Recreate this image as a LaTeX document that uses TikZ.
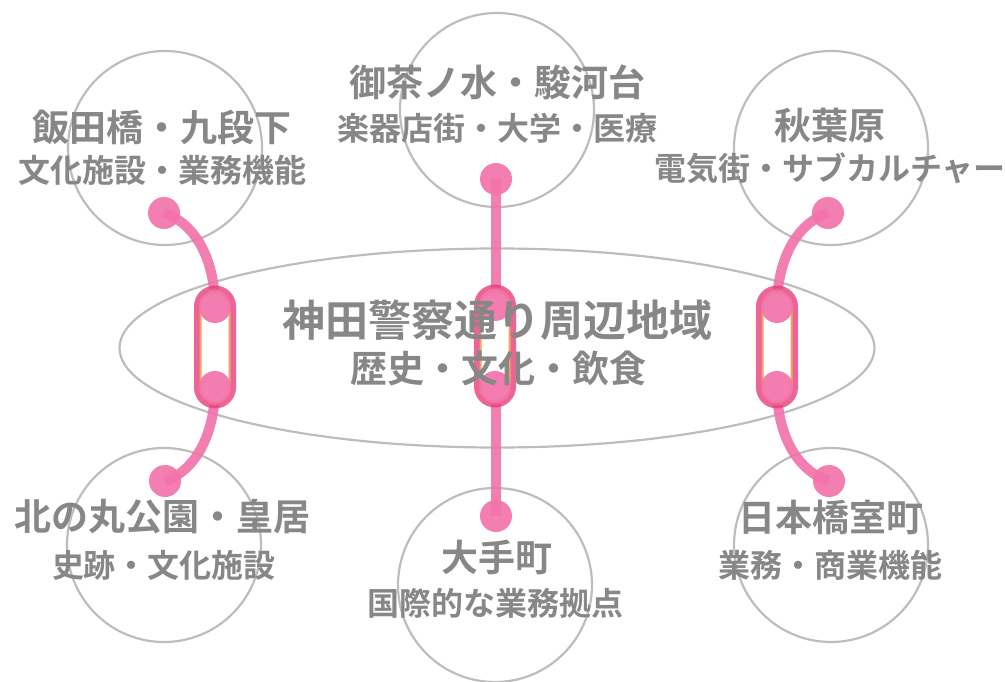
\documentclass[tikz,border=0pt]{standalone}
\usepackage{fontspec}
\setmainfont{Noto Sans CJK JP}[BoldFont={Noto Sans CJK JP Bold}]
\usetikzlibrary{shapes.geometric}
\definecolor{txt}{HTML}{878787}
\definecolor{ringc}{HTML}{BDBDBD}
\definecolor{pk}{HTML}{F273AA}
\definecolor{pkd}{HTML}{E83E7C}
\definecolor{org}{HTML}{F5A35E}
\pgfdeclarelayer{lzero}
\pgfdeclarelayer{lone}
\pgfdeclarelayer{ltwo}
\pgfsetlayers{lzero,lone,ltwo,main}
\begin{document}
\begin{tikzpicture}[x=1pt,y=-1pt,
 ring/.style={circle, draw=ringc, line width=2.2pt, minimum size=194pt, inner sep=0},
 head/.style={text=txt, font=\fontsize{37}{40}\selectfont\bfseries, inner sep=0},
 subl/.style={text=txt, font=\fontsize{32}{36}\selectfont\bfseries, inner sep=0},
 title/.style={text=txt, font=\fontsize{43}{46}\selectfont\bfseries, inner sep=0},
 titlesub/.style={text=txt, font=\fontsize{37}{40}\selectfont\bfseries, inner sep=0},
 dot/.style={circle, fill=pk, fill opacity=0.92, minimum size=32pt, inner sep=0},
 link/.style={draw=pk, draw opacity=0.92, line width=10pt},
 capsule/.style={rectangle, draw=pkd, draw opacity=0.8, line width=6pt, fill=white, rounded corners=18pt, minimum width=36pt, minimum height=117pt, inner sep=0},
 capin/.style={rectangle, draw=org, line width=2pt, rounded corners=14pt, minimum width=29pt, minimum height=110pt, inner sep=0}
]
\useasboundingbox (0,0) rectangle (1005,682);

% dots
\node[dot] (tlD) at (164,213) {};
\node[dot] (tcD) at (496,179) {};
\node[dot] (trD) at (828,213) {};
\node[dot] (blD) at (165,481) {};
\node[dot] (bcD) at (496,516) {};
\node[dot] (brD) at (829,481) {};
\node[dot] (lA) at (215,307) {};
\node[dot] (lB) at (215,387) {};
\node[dot] (cA) at (495,305) {};
\node[dot] (cB) at (495,387) {};
\node[dot] (rA) at (777,307) {};
\node[dot] (rB) at (777,387) {};

% texts
\node[title] (t0) at (497,320) {神田警察通り周辺地域};
\node[titlesub] (t0s) at (498,368) {歴史・文化・飲食};
\node[head] (t1) at (162,127) {飯田橋・九段下};
\node[subl] (t1s) at (163,170) {文化施設・業務機能};
\node[head] (t2) at (497,82) {御茶ノ水・駿河台};
\node[subl] (t2s) at (497,128) {楽器店街・大学・医療};
\node[head] (t3) at (830,125) {秋葉原};
\node[subl] (t3s) at (830,168) {電気街・サブカルチャー};
\node[head] (t4) at (163,517) {北の丸公園・皇居};
\node[subl] (t4s) at (164,565) {史跡・文化施設};
\node[head] (t5) at (497,557) {大手町};
\node[subl] (t5s) at (495,603) {国際的な業務拠点};
\node[head] (t6) at (831,517) {日本橋室町};
\node[subl] (t6s) at (830,565) {業務・商業機能};

\begin{pgfonlayer}{lzero}
\node[ellipse, draw=ringc, line width=2.2pt, minimum width=755pt, minimum height=199pt, inner sep=0] (mainE) at (497,348) {};
\node[ring] (tlR) at (165,148) {};
\node[ring] (tcR) at (497,110) {};
\node[ring] (trR) at (831,148) {};
\node[ring] (blR) at (164,545) {};
\node[ring] (bcR) at (495,585) {};
\node[ring] (brR) at (831,545) {};
\end{pgfonlayer}

\begin{pgfonlayer}{lone}
\draw[link] (tlD.center) .. controls (197,224) and (215,262) .. (lA.center);
\draw[link] (lB.center) .. controls (215,432) and (197,470) .. (blD.center);
\draw[link] (trD.center) .. controls (795,224) and (777,262) .. (rA.center);
\draw[link] (rB.center) .. controls (777,432) and (795,470) .. (brD.center);
\draw[link] (tcD.center) -- (bcD.center);
\end{pgfonlayer}

\begin{pgfonlayer}{ltwo}
\node[capsule] (capL) at (215,347) {};
\node[capin] (capLi) at (215,347) {};
\node[capsule] (capC) at (495,346) {};
\node[capin] (capCi) at (495,346) {};
\node[capsule] (capR) at (777,347) {};
\node[capin] (capRi) at (777,347) {};
\end{pgfonlayer}
\end{tikzpicture}
\end{document}
